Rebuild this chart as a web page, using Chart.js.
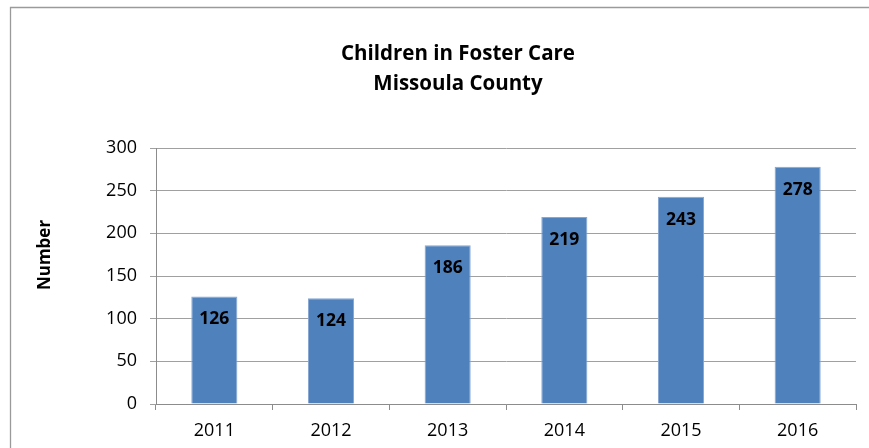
<!DOCTYPE html>
<html>
<head>
<meta charset="utf-8">
<script src="https://cdn.jsdelivr.net/npm/chart.js@4"></script>
<style>
  html, body { margin: 0; padding: 0; background: #ffffff; }
  #wrap { width: 869px; height: 448px; position: relative; }
</style>
</head>
<body>
<div id="wrap"><canvas id="c" width="869" height="448"></canvas></div>
<script>
const categories = ['2011', '2012', '2013', '2014', '2015', '2016'];
const childrenInCare = [126, 124, 186, 219, 243, 278];
const yTicks = [0, 50, 100, 150, 200, 250, 300];
const titleLines = ['Children in Foster Care', 'Missoula County'];
const yAxisTitle = 'Number';

const FONT = "'Open Sans', 'Liberation Sans', sans-serif";

const framePlugin = {
  id: 'frame',
  beforeDraw(chart) {
    const ctx = chart.ctx;
    ctx.save();
    ctx.fillStyle = '#ffffff';
    ctx.fillRect(0, 0, chart.width, chart.height);
    ctx.strokeStyle = '#9a9a9a';
    ctx.lineWidth = 1.3;
    ctx.beginPath();
    ctx.moveTo(10.5, chart.height);
    ctx.lineTo(10.5, 7.5);
    ctx.lineTo(chart.width, 7.5);
    ctx.stroke();
    // title
    ctx.fillStyle = '#000000';
    ctx.font = "bold 20.5px " + FONT;
    ctx.textAlign = 'center';
    ctx.textBaseline = 'middle';
    ctx.fillText(titleLines[0], 458, 54);
    ctx.fillText(titleLines[1], 458, 84);
    // y axis title
    ctx.save();
    ctx.translate(45, 255);
    ctx.rotate(-Math.PI / 2);
    ctx.font = "bold 17px " + FONT;
    ctx.fillText(yAxisTitle, 0, 0);
    ctx.restore();
    ctx.restore();
  }
};

const labelPlugin = {
  id: 'barLabels',
  afterDatasetsDraw(chart) {
    const ctx = chart.ctx;
    const meta = chart.getDatasetMeta(0);
    ctx.save();
    ctx.fillStyle = '#000000';
    ctx.font = "bold 17.5px " + FONT;
    ctx.textAlign = 'center';
    ctx.textBaseline = 'middle';
    meta.data.forEach((bar, i) => {
      ctx.fillText(String(childrenInCare[i]), bar.x, bar.y + 23);
    });
    ctx.restore();
  }
};

new Chart(document.getElementById('c'), {
  type: 'bar',
  data: {
    labels: categories,
    datasets: [{
      data: childrenInCare,
      backgroundColor: '#4F81BD',
      borderColor: '#86a6d4',
      borderWidth: 1,
      barPercentage: 0.395,
      categoryPercentage: 1.0
    }]
  },
  options: {
    responsive: false,
    animation: false,
    events: [],
    layout: { padding: { left: 11, top: 148, right: 13, bottom: 0 } },
    plugins: {
      legend: { display: false },
      title: { display: false },
      tooltip: { enabled: false }
    },
    scales: {
      x: {
        grid: {
          display: true,
          drawOnChartArea: false,
          offset: true,
          tickLength: 6,
          color: '#8c8c8c'
        },
        border: { display: true, color: '#8c8c8c' },
        ticks: {
          color: '#000000',
          font: { family: FONT, size: 18 },
          padding: 10,
          maxRotation: 0
        },
        afterFit(scale) { scale.height = 44; }
      },
      y: {
        min: 0,
        max: 300,
        afterBuildTicks(scale) { scale.ticks = yTicks.map(v => ({ value: v })); },
        grid: {
          color: '#a0a0a0',
          tickLength: 6,
          lineWidth: 1
        },
        border: { display: true, color: '#8c8c8c' },
        ticks: {
          color: '#000000',
          font: { family: FONT, size: 18 },
          padding: 13
        },
        title: { display: false },
        afterFit(scale) { scale.width = 145; }
      }
    }
  },
  plugins: [framePlugin, labelPlugin]
});
</script>
</body>
</html>
